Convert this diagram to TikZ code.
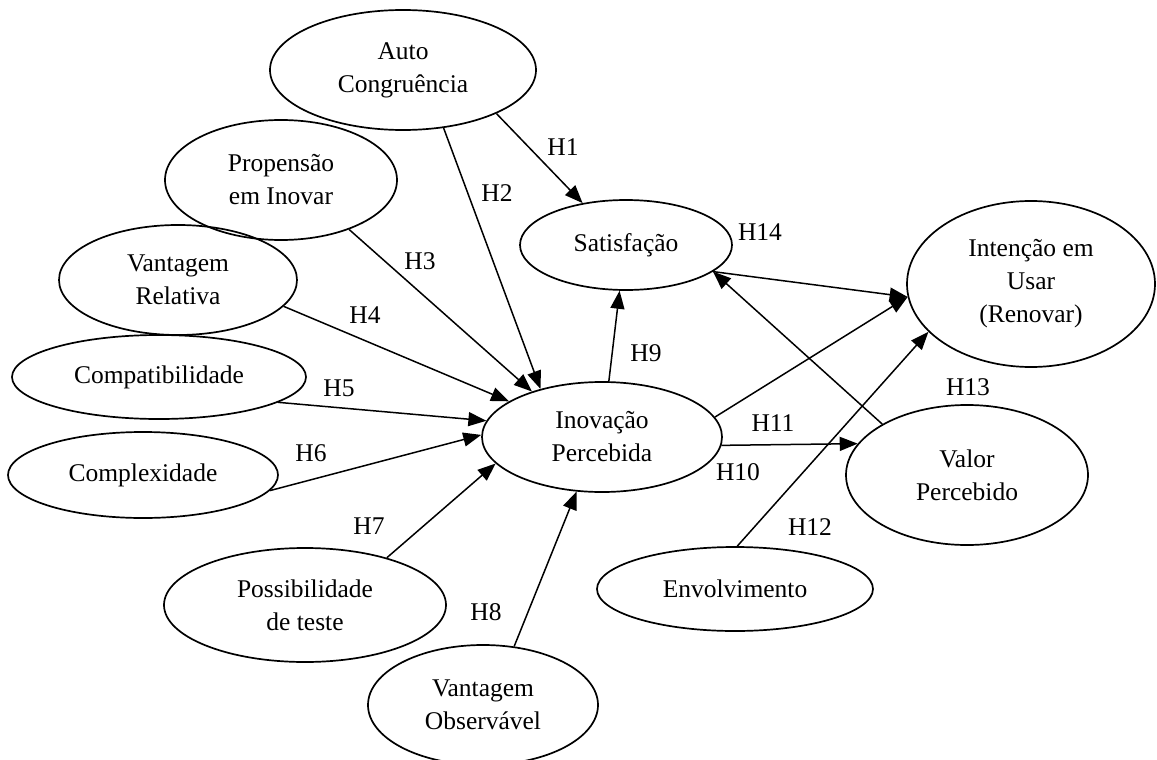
\documentclass[tikz,border=0pt]{standalone}
\usepackage{fontspec}
\setmainfont{Liberation Serif}
\usetikzlibrary{shapes.geometric,arrows.meta}
\begin{document}
\begin{tikzpicture}[x=1pt,y=-1pt,
 ell/.style={ellipse,draw,line width=1.7pt,inner sep=0pt,align=center,font=\fontsize{25.5}{33}\selectfont},
 arr/.style={line width=1.5pt,-{Triangle[length=18pt,width=14pt]}},
 lab/.style={font=\fontsize{25.5}{30}\selectfont,inner sep=0pt}]
\useasboundingbox (0,0) rectangle (1157,760);
% nodes
\node[ell,minimum width=266pt,minimum height=120pt] (auto) at (403,70) {Auto\\Congruência};
\node[ell,minimum width=232pt,minimum height=120pt] (prop) at (281,180) {Propensão\\em Inovar};
\node[ell,minimum width=238pt,minimum height=110pt] (vrel) at (178,280) {Vantagem\\Relativa};
\node[ell,minimum width=294pt,minimum height=84pt] (comp) at (159,377) {Compatibilidade};
\node[ell,minimum width=270pt,minimum height=86pt] (cplx) at (143,475) {Complexidade};
\node[ell,minimum width=282pt,minimum height=114pt] (poss) at (305,605) {Possibilidade\\de teste};
\node[ell,minimum width=230pt,minimum height=120pt] (vobs) at (483,705) {Vantagem\\Observável};
\node[ell,minimum width=240pt,minimum height=110pt] (inov) at (602,437) {Inovação\\Percebida};
\node[ell,minimum width=212pt,minimum height=90pt] (sat) at (626,245) {Satisfação};
\node[ell,minimum width=248pt,minimum height=166pt] (int) at (1031,284) {Intenção em\\Usar\\(Renovar)};
\node[ell,minimum width=242pt,minimum height=140pt] (val) at (967,475) {Valor\\Percebido};
\node[ell,minimum width=276pt,minimum height=84pt] (env) at (735,589) {Envolvimento};
% connectors
\draw[arr] (auto.-25) -- (sat.136);
\draw[arr] (auto.-55) -- (inov.142);
\draw[arr] (prop.-36) -- (inov.147);
\draw[arr] (vrel.-14.5) -- (inov.159.6);
\draw[arr] (comp.-12.7) -- (inov.172.9);
\draw[arr] (cplx.-7.2) -- (inov.179);
\draw[arr] (poss.30) -- (inov.194.7);
\draw[arr] (vobs.62.6) -- (inov.245.6);
\draw[arr] (inov.83.8) -- (sat.262.7);
\draw[arr] (inov.10.2) -- (int.186.7);
\draw[arr] (inov.-4.8) -- (val.164.8);
\draw[arr] (env.87.4) -- (int.205.4);
\draw[arr] (val.149.2) -- (sat.-17);
\draw[arr] (sat.-17.2) -- (int.186.7);
% labels
\node[lab] (h1) at (563,147) {H1};
\node[lab] (h2) at (497,193) {H2};
\node[lab] (h3) at (420,261) {H3};
\node[lab] (h4) at (365,315) {H4};
\node[lab] (h5) at (339,388) {H5};
\node[lab] (h6) at (311,453) {H6};
\node[lab] (h7) at (369,526) {H7};
\node[lab] (h8) at (486,612) {H8};
\node[lab] (h9) at (646,353) {H9};
\node[lab] (h10) at (738,472) {H10};
\node[lab] (h11) at (773,423) {H11};
\node[lab] (h12) at (810,527) {H12};
\node[lab] (h13) at (968,387) {H13};
\node[lab] (h14) at (760,232) {H14};
\end{tikzpicture}
\end{document}
